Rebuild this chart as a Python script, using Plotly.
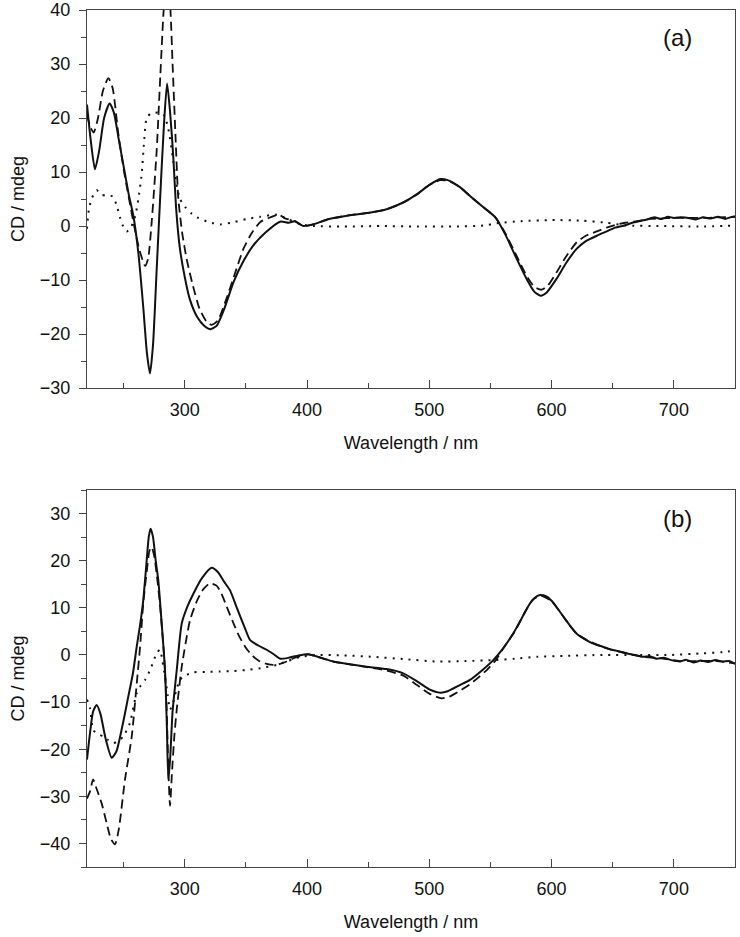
import plotly.graph_objects as go

# ---------------- Panel (a) ----------------
a_solid_x = [220, 223, 226.5, 230, 234, 238.5, 242, 246, 250, 254, 258, 262, 266, 269, 271.5, 274, 277, 280, 283,
             285.5, 288, 290.5, 293, 296, 300, 304, 310, 316, 321, 326, 332, 340, 348, 356, 366, 378, 385, 390, 397,
             405, 418, 435, 452, 465, 479, 490, 500, 509, 515, 525, 533, 543, 554, 562, 571.5, 580, 586, 591, 596,
             604, 612, 620.6, 628, 637, 645, 652, 659, 666, 672, 678, 684, 690, 695, 700, 706, 712, 718, 724, 730,
             736, 742, 746, 750]
a_solid_y = [22.5, 16, 10.5, 14, 20, 22.7, 21, 16, 11, 6, 1.8, -5, -15, -23.5, -27.3, -22, -8, 6, 19,
             26.4, 21, 13, 3, -4.2, -9.5, -13.5, -16.8, -18.5, -19.1, -18.5, -15.5, -10.3, -6.5, -3.6, -1.2, 0.8, 0.6, 0.9, 0,
             0.3, 1.3, 2.0, 2.5, 3.1, 4.4, 5.9, 7.6, 8.7, 8.5, 7.2, 5.6, 3.7, 1.6, -1.5, -6.1, -10, -12.2, -12.9, -12.3,
             -9.8, -6.8, -4.2, -2.8, -1.8, -1.0, -0.3, 0.05, 0.6, 0.9, 1.2, 1.6, 1.3, 1.7, 1.5, 1.6, 1.5, 1.2, 1.6, 1.4,
             1.7, 1.3, 1.6, 1.8]

a_dash_x = [220, 223, 225.5, 229, 233, 237.5, 241, 245.5, 250, 254, 259, 263, 267.5, 270, 273, 277, 280, 283, 285.5,
            288, 290, 292.5, 294.7, 298, 301.5, 306, 312, 318, 322, 327, 334, 341, 348, 355, 362, 370, 377, 382, 390,
            397, 405, 418, 435, 452, 465, 479, 490, 500, 509, 515, 525, 533, 543, 554, 562, 571.5, 580, 586, 592, 597,
            604, 612, 620.6, 628, 637, 645, 652, 660, 670, 680, 690, 700, 712, 724, 736, 750]
a_dash_y = [20.5, 18.2, 17.3, 20, 25, 27.4, 25.5, 17.3, 10.5, 5.5, -0.5, -4.5, -7.4, -6, 1, 14, 28, 41, 46,
            41, 30, 16, 5, -1.5, -6.1, -10.5, -15.3, -17.8, -18.3, -17.5, -13.5, -8.8, -4.2, -1.2, 0.8, 1.6, 2.1, 1.4, 0.9,
            0, 0.3, 1.3, 2.0, 2.5, 3.1, 4.4, 5.9, 7.6, 8.5, 8.4, 7.2, 5.6, 3.7, 1.6, -1.3, -5.6, -9.4, -11.3, -11.8, -11,
            -8.6, -5.6, -3.0, -1.8, -1.0, -0.3, 0.2, 0.6, 0.9, 1.3, 1.4, 1.5, 1.5, 1.5, 1.6, 1.7]

a_dot_x = [220, 221.5, 224, 228, 232, 236, 241, 244, 247, 250, 252.5, 256, 259.5, 262, 264.7, 266.5, 268.8, 272,
           278, 283, 286.5, 290, 293, 296, 300, 305, 310, 320, 329, 340, 350.6, 361.5, 375, 385, 395, 405, 430, 460,
           490, 520, 545, 555, 575, 600, 625, 645, 660, 690, 720, 750]
a_dot_y = [-0.5, 3, 5.2, 6.6, 5.8, 5.6, 5.5, 4, 1.6, -0.3, -1.0, -0.2, 1.9, 5, 9.5, 15, 20, 20.8,
           21, 20.5, 18, 13, 8, 5, 3.6, 2.4, 1.6, 0.7, 0.3, 0.7, 1.3, 1.7, 2.1, 1.2, 0.3, 0.0, -0.1, 0.0,
           -0.1, -0.1, 0.1, 0.5, 0.9, 1.1, 1.0, 0.6, 0.1, 0.0, -0.1, 0.1]

# ---------------- Panel (b) ----------------
b_solid_x = [220, 222.5, 225, 227.9, 231, 235, 240.2, 244, 249, 253.8, 257.5, 260.7, 263.5, 266, 268.5, 270.5, 272,
             274, 276.2, 278.3, 281, 283.8, 285.3, 286.5, 288, 290, 293.4, 297.5, 302, 307, 314, 322, 327, 332, 337,
             343, 349, 353.3, 360, 367, 373, 378, 385, 393, 401, 410, 421.5, 435, 448.8, 465, 478.7, 490, 500, 509,
             515, 525, 533.3, 543, 552.3, 560, 568.7, 576, 582, 586, 590.6, 595, 600, 605, 609.7, 616, 621, 626, 633,
             640, 647.8, 655, 662, 670, 675, 680, 686, 692, 698, 705, 710, 716, 722, 728, 734, 740, 745, 750]
b_solid_y = [-22.2, -16.5, -12, -10.6, -12.5, -17.5, -21.8, -20.5, -15, -8.8, -4, 1.8, 6.5, 11.6, 19, 25, 26.8,
             25, 20, 15.9, 7, -3.2, -15, -26.4, -22, -12, -3.2, 6.7, 10.2, 13, 16.3, 18.5, 17.6, 15.6, 13.7,
             9.7, 5.8, 3.2, 2.0, 1.1, 0.1, -0.8, -0.6, -0.1, 0.15, -0.5, -1.4, -2.0, -2.5, -3.0, -3.9, -5.6, -7.3, -8.0,
             -7.7, -6.4, -5.3, -3.3, -1.1, 1.3, 4.6, 8, 10.8, 12.1, 12.7, 12.5, 11.5, 9.8, 8.1, 5.9, 4.4, 3.5, 2.5,
             1.9, 1.2, 0.8, 0.3, -0.1, -0.4, -0.3, -0.8, -0.6, -1.1, -1.4, -1.0, -1.6, -1.2, -1.5, -1.1, -1.4, -1.3, -1.9]

b_dash_x = [220, 222.5, 225, 228, 232, 236, 239.5, 242.9, 246, 251.1, 256.6, 260.7, 263.5, 266, 269, 271, 272.8,
            275, 277.5, 279.6, 283, 285, 286.5, 287.9, 289.5, 291.5, 293.4, 297.5, 304.3, 310, 315, 320.6, 326, 330,
            334.3, 340, 344, 349.2, 355, 361.5, 367, 372.4, 378, 383.3, 390, 396, 401, 410, 421.5, 435, 448.8, 465,
            478.7, 490, 500, 510, 516, 525, 533, 540, 547, 554, 563.3, 570, 578, 584, 590.6, 600, 610, 620, 630, 640,
            650, 660, 675, 690, 705, 720, 735, 750]
b_dash_y = [-30.5, -28.9, -26.4, -28.5, -31.5, -35.6, -39, -40.2, -37, -26.4, -17.3, -6, 2, 10.9, 18, 22, 22.9,
            21, 16, 10.9, 0, -10.2, -24, -32, -25, -17, -11.6, -2.5, 7.4, 11.5, 13.9, 15.2, 14.7, 13,
            10.2, 6.6, 4.2, 1.8, -0.1, -1.4, -1.9, -2.1, -1.9, -1.4, -0.6, -0.1, 0.1, -0.5, -1.4, -2.0, -2.6, -3.3,
            -4.4, -6.4, -8.2, -9.2, -8.9, -7.6, -6.3, -4.8, -3.2, -1.2, 2.5, 5, 9, 11.5, 12.6, 11.4, 8.0, 4.6, 3.0, 1.9,
            1.0, 0.4, -0.4, -0.7, -1.3, -1.3, -1.3, -1.8]

b_dot_x = [220, 222.5, 225, 229, 233.3, 237, 241.5, 245.5, 249.7, 255.2, 258, 260.7, 264, 267.5, 272, 277, 279.7,
           281.8, 283.8, 286, 287.9, 290, 293, 296, 300, 307, 318, 328.8, 340, 350.6, 362, 375.2, 385, 395, 407.9,
           430, 454, 480, 506, 530, 552.3, 570, 588, 610, 642, 670, 697, 724, 740, 750]
b_dot_y = [-9.5, -11.3, -15.9, -16.8, -17.3, -18, -18.7, -18.3, -17.3, -14.4, -11, -8.1, -6.5, -5.3, -3, 0.4, 1.1,
           -1.5, -4.6, -8.5, -11.6, -10.5, -7.5, -5.3, -4.4, -3.7, -3.6, -3.5, -3.4, -3.2, -2.8, -2.1, -1.2, -0.4, 0.0,
           -0.1, -0.4, -0.9, -1.4, -1.3, -1.1, -0.8, -0.4, -0.2, 0.0, 0.0, 0.0, 0.35, 0.6, 0.9]

panel_labels = ["(a)", "(b)"]
x_title = "Wavelength / nm"
y_title = "CD / mdeg"

FONT = "Liberation Sans, Arial, sans-serif"
INK = "#111111"
AXIS = "#444444"

fig = go.Figure()

def add_traces(xs_sol, ys_sol, xs_dash, ys_dash, xs_dot, ys_dot, xa, ya):
    fig.add_trace(go.Scatter(x=xs_dot, y=ys_dot, mode="lines", xaxis=xa, yaxis=ya,
                             line=dict(color=INK, width=2, dash="2px,6px", shape="spline", smoothing=0.6),
                             showlegend=False))
    fig.add_trace(go.Scatter(x=xs_dash, y=ys_dash, mode="lines", xaxis=xa, yaxis=ya,
                             line=dict(color=INK, width=1.8, dash="9px,5px", shape="spline", smoothing=0.6),
                             showlegend=False))
    fig.add_trace(go.Scatter(x=xs_sol, y=ys_sol, mode="lines", xaxis=xa, yaxis=ya,
                             line=dict(color=INK, width=2, shape="spline", smoothing=0.6),
                             showlegend=False))

add_traces(a_solid_x, a_solid_y, a_dash_x, a_dash_y, a_dot_x, a_dot_y, "x", "y")
add_traces(b_solid_x, b_solid_y, b_dash_x, b_dash_y, b_dot_x, b_dot_y, "x2", "y2")

W, H = 740, 937
ml, mr, mt, mb = 87, 5, 10, 70
ph = H - mt - mb

def py2paper(py):
    return (H - mb - py) / ph

xcommon = dict(range=[220, 750], dtick=100, tick0=0, ticks="inside", ticklen=8, tickwidth=1,
               tickcolor=AXIS, showline=True, linecolor=AXIS, linewidth=1, mirror=True,
               showgrid=False, zeroline=False, automargin=False, ticklabelstandoff=5,
               ticklabeloverflow="allow",
               tickfont=dict(family=FONT, size=18, color=INK),
               minor=dict(dtick=50, tick0=0, ticks="inside", ticklen=5, tickcolor=AXIS),
               title=dict(text=x_title, font=dict(family=FONT, size=18, color=INK), standoff=17))
ycommon = dict(dtick=10, tick0=0, ticks="outside", ticklen=7, tickwidth=1,
               tickcolor=AXIS, showline=True, linecolor=AXIS, linewidth=1, mirror=True,
               showgrid=False, zeroline=False, automargin=False, ticklabelstandoff=5,
               ticklabeloverflow="allow",
               tickfont=dict(family=FONT, size=18, color=INK),
               minor=dict(dtick=5, tick0=0, ticks="outside", ticklen=5, tickcolor=AXIS),
               title=dict(text=y_title, font=dict(family=FONT, size=18, color=INK), standoff=10))

fig.update_layout(
    template="plotly_white",
    width=W, height=H,
    margin=dict(l=ml, r=mr, t=mt, b=mb, autoexpand=False),
    paper_bgcolor="white", plot_bgcolor="white",
    xaxis=dict(xcommon, anchor="y", domain=[0, 1]),
    yaxis=dict(ycommon, anchor="x", range=[-30, 40], domain=[py2paper(388), 1.0]),
    xaxis2=dict(xcommon, anchor="y2", domain=[0, 1]),
    yaxis2=dict(ycommon, anchor="x2", range=[-45, 35], domain=[0.0, py2paper(490)]),
    annotations=[
        dict(text=panel_labels[0], x=703, y=35, xref="x", yref="y", xanchor="center", yanchor="middle",
             showarrow=False, font=dict(family=FONT, size=24, color=INK)),
        dict(text=panel_labels[1], x=703, y=29, xref="x2", yref="y2", xanchor="center", yanchor="middle",
             showarrow=False, font=dict(family=FONT, size=24, color=INK)),
    ],
)

# remove the default page margin so the figure sits at the window's top-left corner
fig.write_html("out.html", config={"displayModeBar": False},
               post_script="document.body.style.margin='0';")
